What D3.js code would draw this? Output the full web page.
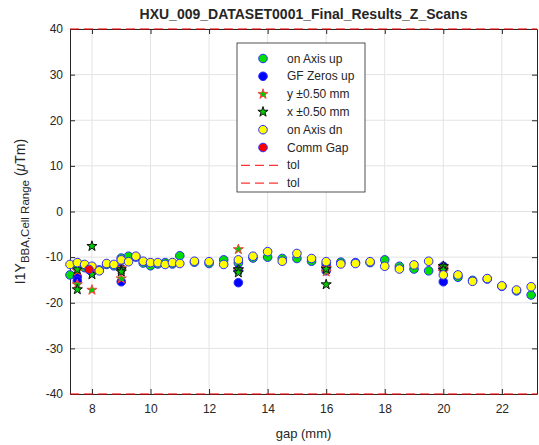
<!DOCTYPE html>
<html>
<head>
<meta charset="utf-8">
<script src="https://cdn.jsdelivr.net/npm/d3@7"></script>
<style>
  body { margin: 0; background: #fff; }
  text { font-family: "Liberation Sans", Arial, sans-serif; fill: #262626; }
</style>
</head>
<body>
<div id="chart"></div>
<script>
// scan gaps (mm)
var gaps = [7.25, 7.5, 7.75, 8, 8.25, 8.5, 8.75, 9, 9.25, 9.5, 9.75, 10, 10.25, 10.5, 10.75, 11,
  11.5, 12, 12.5, 13, 13.5, 14, 14.5, 15, 15.5, 16, 16.5, 17, 17.5, 18, 18.5, 19, 19.5, 20,
  20.5, 21, 21.5, 22, 22.5, 23];
var onAxisUp = [-13.9, -12.0, -12.3, -12.6, -12.8, -11.6, -11.9, -10.2, -9.8, -10.0, -11.3, -11.9, -11.5, -11.2, -11.5, -9.7,
  -11.1, -11.4, -10.6, -11.3, -10.2, -10.0, -10.3, -10.3, -10.9, -11.5, -11.1, -11.2, -11.2, -10.6, -12.0, -12.6, -13.0, -12.6,
  -14.4, -15.1, -14.8, -16.4, -17.4, -18.3];
var onAxisDn = [-11.6, -11.2, -11.6, -12.0, -13.0, -11.4, -11.6, -10.6, -11.0, -9.8, -10.9, -11.2, -11.2, -11.6, -11.2, -11.4,
  -10.9, -11.0, -11.6, -10.6, -9.8, -8.8, -10.9, -9.2, -10.3, -11.0, -11.5, -11.4, -11.0, -12.0, -12.6, -11.7, -10.9, -13.9,
  -13.9, -15.3, -14.7, -16.3, -17.2, -16.5];

var gfGaps = [7.5, 7.5, 8, 9, 9, 13, 13, 16, 16, 20, 20];
var gfZerosUp = [-14.3, -15.2, -13.2, -15.4, -12.5, -15.6, -12.8, -13.0, -12.2, -12.0, -15.4];

var offGaps = [7.5, 7.5, 8, 8, 9, 9, 13, 13, 16, 16, 20, 20];
var yOffset = [-16.0, -13.0, -17.2, -12.4, -14.7, -12.4, -8.3, -12.8, -12.4, -13.2, -12.3, -13.2];
var xOffset = [-12.7, -17.1, -7.6, -13.8, -12.7, -13.2, -12.7, -13.4, -16.0, -12.6, -12.0, -12.8];

var commGaps = [7.9];
var commGap = [-12.7];

var tolVals = [40, -40];

var xTicks = [8, 10, 12, 14, 16, 18, 20, 22];
var yTicks = [-40, -30, -20, -10, 0, 10, 20, 30, 40];

var legendLabels = ["on Axis up", "GF Zeros up", "y \u00b10.50 mm", "x \u00b10.50 mm", "on Axis dn", "Comm Gap", "tol", "tol"];

var svgWidth = 539, svgHeight = 445;
var margin = { top: 29, right: 2, bottom: 51, left: 70 };
var width = svgWidth - margin.left - margin.right;
var height = svgHeight - margin.top - margin.bottom;

var svg = d3.select("#chart").append("svg")
  .attr("width", svgWidth)
  .attr("height", svgHeight);

var g = svg.append("g")
  .attr("transform", `translate(${margin.left}, ${margin.top})`);

var x = d3.scaleLinear().domain([7.25, 23.2]).range([0, width]);
var y = d3.scaleLinear().domain([-40, 40]).range([height, 0]);

// grid
g.append("g").selectAll("line.vg").data(xTicks).enter().append("line")
  .attr("x1", d => x(d)).attr("x2", d => x(d))
  .attr("y1", 0).attr("y2", height)
  .attr("stroke", "#e3e3e3").attr("stroke-width", 1);
g.append("g").selectAll("line.hg").data(yTicks).enter().append("line")
  .attr("x1", 0).attr("x2", width)
  .attr("y1", d => y(d)).attr("y2", d => y(d))
  .attr("stroke", "#e3e3e3").attr("stroke-width", 1);

// axes (ticks inside, like matlab), plain hyphen minus
var fmt = d => String(d);
g.append("g").attr("transform", `translate(0, ${height})`)
  .call(d3.axisBottom(x).tickValues(xTicks).tickFormat(fmt).tickSizeInner(-5).tickSizeOuter(0).tickPadding(10));
g.append("g")
  .call(d3.axisLeft(y).tickValues(yTicks).tickFormat(fmt).tickSizeInner(-5).tickSizeOuter(0).tickPadding(7));
g.append("g").call(d3.axisTop(x).tickValues(xTicks).tickSizeInner(-5).tickSizeOuter(0).tickFormat(""));
g.append("g").attr("transform", `translate(${width}, 0)`)
  .call(d3.axisRight(y).tickValues(yTicks).tickSizeInner(-5).tickSizeOuter(0).tickFormat(""));

g.selectAll(".domain").attr("stroke", "#262626");
g.selectAll(".tick line").attr("stroke", "#262626");
g.selectAll(".tick text").attr("font-size", "12px").attr("fill", "#262626")
  .style("font-family", "Liberation Sans, Arial, sans-serif");

// data marks
var circle = function (xs, vals, fill, edge) {
  g.append("g").selectAll("circle").data(vals).enter().append("circle")
    .attr("cx", (d, i) => x(xs[i]))
    .attr("cy", d => y(d))
    .attr("r", 4.3)
    .attr("fill", fill)
    .attr("stroke", edge)
    .attr("stroke-width", 1);
};
var star = d3.symbol().type(d3.symbolStar).size(32);
var stars = function (xs, vals, edge) {
  g.append("g").selectAll("path").data(vals).enter().append("path")
    .attr("d", star)
    .attr("transform", (d, i) => `translate(${x(xs[i])}, ${y(d)})`)
    .attr("fill", "#00cc00")
    .attr("stroke", edge)
    .attr("stroke-width", 1);
};

circle(gaps, onAxisUp, "#00e000", "#2b2bff");
circle(gfGaps, gfZerosUp, "#0000ff", "#2b2bff");
stars(offGaps, yOffset, "#ff4040");
stars(offGaps, xOffset, "#111111");
circle(gaps, onAxisDn, "#ffff00", "#2b2bff");
circle(commGaps, commGap, "#ff0000", "#2b2bff");

// tolerance lines
g.append("g").selectAll("line").data(tolVals).enter().append("line")
  .attr("x1", 0).attr("x2", width)
  .attr("y1", d => y(d)).attr("y2", d => y(d))
  .attr("stroke", "#ff0000").attr("stroke-width", 1)
  .attr("stroke-dasharray", "9,5");

// title + labels
svg.append("text")
  .attr("x", margin.left + width / 2).attr("y", 19)
  .attr("text-anchor", "middle")
  .attr("font-size", "14px").attr("font-weight", "bold")
  .attr("fill", "#000")
  .text("HXU_009_DATASET0001_Final_Results_Z_Scans");

svg.append("text")
  .attr("x", margin.left + width / 2).attr("y", 438)
  .attr("text-anchor", "middle")
  .attr("font-size", "13px")
  .text("gap (mm)");

var ylab = svg.append("text")
  .attr("transform", `translate(25, ${margin.top + height / 2}) rotate(-90)`)
  .attr("text-anchor", "middle")
  .attr("font-size", "14px");
ylab.append("tspan").text("I1Y");
ylab.append("tspan").attr("dy", 4).attr("font-size", "11.5px").text("BBA,Cell Range");
ylab.append("tspan").attr("dy", -4).text(" (");
ylab.append("tspan").attr("font-style", "italic").text("\u03bc");
ylab.append("tspan").text("Tm)");

// legend
var leg = svg.append("g").attr("transform", "translate(237, 43)");
leg.append("rect").attr("width", 128).attr("height", 149)
  .attr("fill", "#fff").attr("stroke", "#262626").attr("stroke-width", 0.8);
var rowY = function (i) { return 15.5 + i * 17.8; };
var legItems = leg.selectAll("g.item").data(legendLabels).enter().append("g")
  .attr("transform", (d, i) => `translate(0, ${rowY(i)})`);
legItems.append("text")
  .attr("x", 50).attr("y", 4)
  .attr("font-size", "12px").attr("fill", "#000")
  .text(d => d);

var legFill = ["#00e000", "#0000ff", "#ffff00", "#ff0000"];
legItems.filter((d, i) => i === 0 || i === 1 || i === 4 || i === 5)
  .append("circle")
  .attr("cx", 26).attr("cy", 0).attr("r", 4.3)
  .attr("fill", (d, i) => legFill[i])
  .attr("stroke", "#2b2bff");
legItems.filter((d, i) => i === 2 || i === 3)
  .append("path")
  .attr("d", star)
  .attr("transform", "translate(26, 0)")
  .attr("fill", "#00cc00")
  .attr("stroke", (d, i) => i === 0 ? "#ff4040" : "#111111");
legItems.filter((d, i) => i >= 6)
  .append("line")
  .attr("x1", 4).attr("x2", 46)
  .attr("stroke", "#ff0000").attr("stroke-dasharray", "9,5");
</script>
</body>
</html>
